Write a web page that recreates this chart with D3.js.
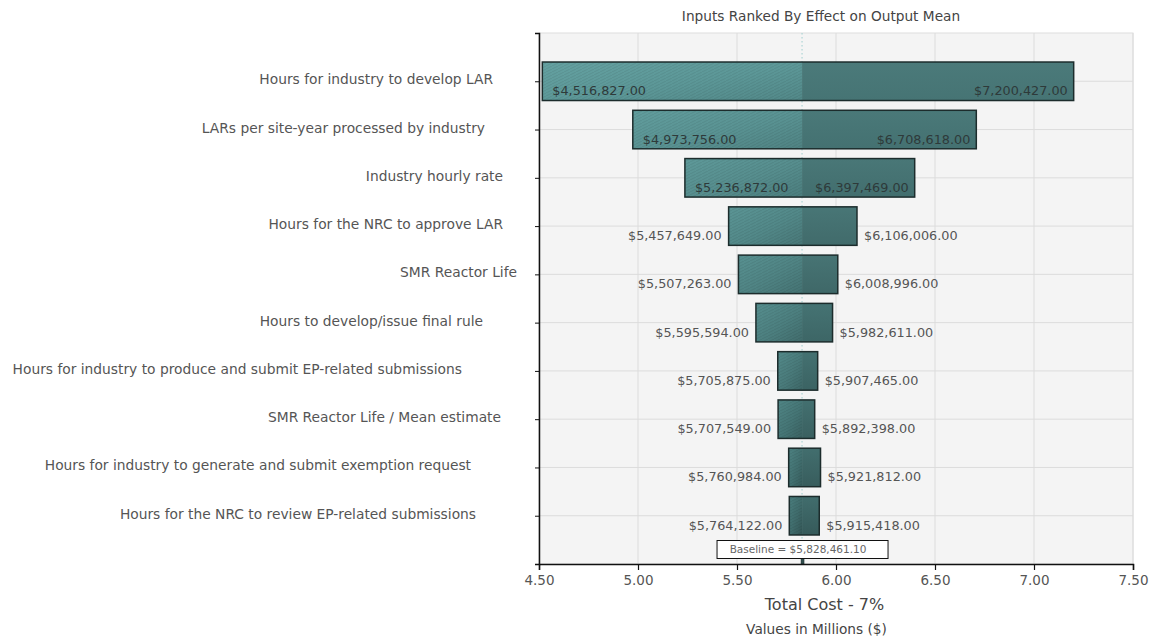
<!DOCTYPE html>
<html><head><meta charset="utf-8">
<script src="https://cdn.jsdelivr.net/npm/d3@7/dist/d3.min.js"></script>
<style>
body{margin:0;background:#fff;}
svg{font-family:"DejaVu Sans",sans-serif;display:block;}
</style></head>
<body><svg id="chart" width="1151" height="636"></svg>
<script>
// ---- data ----
const categories = [
  "Hours for industry to develop LAR",
  "LARs per site-year processed by industry",
  "Industry hourly rate",
  "Hours for the NRC to approve LAR",
  "SMR Reactor Life",
  "Hours to develop/issue final rule",
  "Hours for industry to produce and submit EP-related submissions",
  "SMR Reactor Life / Mean estimate",
  "Hours for industry to generate and submit exemption request",
  "Hours for the NRC to review EP-related submissions"
];
const lowValues  = [4516827.00, 4973756.00, 5236872.00, 5457649.00, 5507263.00, 5595594.00, 5705875.00, 5707549.00, 5760984.00, 5764122.00];
const highValues = [7200427.00, 6708618.00, 6397469.00, 6106006.00, 6008996.00, 5982611.00, 5907465.00, 5892398.00, 5921812.00, 5915418.00];
const baselineValue = 5828461.10;
const xTicks = [4.5, 5.0, 5.5, 6.0, 6.5, 7.0, 7.5];
const chartTitle = "Inputs Ranked By Effect on Output Mean";
const xTitle = "Total Cost - 7%";
const xSubTitle = "Values in Millions ($)";

// ---- layout ----
const plot = {left: 539, right: 1133, top: 33, bottom: 564};
// right edge of category labels (layout only)
const labelRightEdge = [493, 485, 503, 503, 517, 483, 462, 501, 471, 476];

const svg = d3.select("#chart");
const x = d3.scaleLinear().domain([4.5, 7.5]).range([plot.left, plot.right]);
const y = d3.scalePoint().domain(categories).range([plot.top, plot.bottom]).padding(1);
const barH = 38.5;
const money = d3.format("$,.2f");

// defs
const defs = svg.append("defs");
categories.forEach((c, i) => {
  const t = i / (categories.length - 1);
  const g = defs.append("linearGradient").attr("id", "lg" + i)
    .attr("x1", 0).attr("y1", 0).attr("x2", 1).attr("y2", 1);
  g.append("stop").attr("offset", 0).attr("stop-color", d3.interpolateRgb("#64a1a1", "#4a7e7e")(t));
  g.append("stop").attr("offset", 0.55).attr("stop-color", d3.interpolateRgb("#5c9797", "#3f6b6b")(t));
  g.append("stop").attr("offset", 1).attr("stop-color", d3.interpolateRgb("#528888", "#335656")(t));
  const r = defs.append("linearGradient").attr("id", "rg" + i)
    .attr("x1", 0).attr("y1", 0).attr("x2", 0).attr("y2", 1);
  r.append("stop").attr("offset", 0).attr("stop-color", d3.interpolateRgb("#4b7a7a", "#416d6d")(t));
  r.append("stop").attr("offset", 1).attr("stop-color", d3.interpolateRgb("#467474", "#365a5a")(t));
});
const pat = defs.append("pattern").attr("id", "hatch").attr("patternUnits", "userSpaceOnUse")
  .attr("width", 6).attr("height", 3);
pat.append("path").attr("d", "M0,3 L6,0").attr("stroke", "#000").attr("stroke-opacity", 0.07).attr("stroke-width", 1);

// background
svg.append("rect").attr("x", plot.left).attr("y", plot.top)
  .attr("width", plot.right - plot.left).attr("height", plot.bottom - plot.top)
  .attr("fill", "#f4f4f4").attr("stroke", "#dedede");

// grid
svg.append("g").selectAll("line").data(xTicks).join("line")
  .attr("x1", d => x(d)).attr("x2", d => x(d)).attr("y1", plot.top).attr("y2", plot.bottom)
  .attr("stroke", "#dcdcdc").attr("stroke-width", 1);
svg.append("g").selectAll("line").data(categories).join("line")
  .attr("x1", plot.left).attr("x2", plot.right).attr("y1", d => y(d)).attr("y2", d => y(d))
  .attr("stroke", "#dcdcdc").attr("stroke-width", 1);

// baseline dotted line
const bx = x(baselineValue / 1e6);
svg.append("line").attr("x1", bx).attr("x2", bx).attr("y1", plot.top).attr("y2", plot.bottom)
  .attr("stroke", "#9fcfcf").attr("stroke-width", 1).attr("stroke-dasharray", "1.5,2.5");

// bars
const rows = categories.map((c, i) => ({c, i, lo: lowValues[i], hi: highValues[i]}));
const bars = svg.append("g");
rows.forEach(d => {
  const yc = y(d.c);
  const xl = x(d.lo / 1e6), xh = x(d.hi / 1e6);
  bars.append("rect").attr("x", xl).attr("y", yc - barH / 2).attr("width", bx - xl).attr("height", barH)
    .attr("fill", `url(#lg${d.i})`);
  bars.append("rect").attr("x", xl).attr("y", yc - barH / 2).attr("width", bx - xl).attr("height", barH)
    .attr("fill", "url(#hatch)");
  bars.append("rect").attr("x", bx).attr("y", yc - barH / 2).attr("width", xh - bx).attr("height", barH)
    .attr("fill", `url(#rg${d.i})`);
  bars.append("rect").attr("x", xl).attr("y", yc - barH / 2).attr("width", xh - xl).attr("height", barH)
    .attr("fill", "none").attr("stroke", "#1c2c2c").attr("stroke-width", 1.5);
});

// value labels
const labelW = 93;
const vl = svg.append("g").attr("font-size", "12.8px");
rows.forEach(d => {
  const yc = y(d.c) + 14;
  const xl = x(d.lo / 1e6), xh = x(d.hi / 1e6);
  const loInside = (bx - xl) > labelW + 12;
  const hiInside = (xh - bx) > labelW + 12;
  vl.append("text").text(money(d.lo))
    .attr("x", loInside ? xl + 10 : xl - 7).attr("y", yc)
    .attr("text-anchor", loInside ? "start" : "end")
    .attr("fill", loInside ? "#2e3a3a" : "#555");
  vl.append("text").text(money(d.hi))
    .attr("x", hiInside ? xh - 6 : xh + 7).attr("y", yc)
    .attr("text-anchor", hiInside ? "end" : "start")
    .attr("fill", hiInside ? "#2e3a3a" : "#555");
});

// baseline stub and label box
svg.append("rect").attr("x", bx - 1).attr("y", plot.bottom - 7).attr("width", 3).attr("height", 7)
  .attr("fill", "#2f4d4d").attr("stroke", "#1c2c2c").attr("stroke-width", 0.5);
const boxW = 171, boxH = 18;
svg.append("rect").attr("x", bx - boxW / 2 + 0.5).attr("y", 540.5).attr("width", boxW).attr("height", boxH)
  .attr("fill", "#fff").attr("stroke", "#111").attr("stroke-width", 1);
svg.append("text").attr("x", bx - 4).attr("y", 553).attr("text-anchor", "middle")
  .attr("font-size", "10.5px").attr("fill", "#666")
  .text("Baseline = " + money(baselineValue));

// axes
const xAxis = d3.axisBottom(x).tickValues(xTicks).tickFormat(d3.format(".2f")).tickSize(6).tickPadding(5);
const gx = svg.append("g").attr("transform", `translate(0,${plot.bottom})`).call(xAxis);
gx.select(".domain").attr("stroke", "#111").attr("stroke-width", 1.5);
gx.selectAll(".tick line").attr("stroke", "#111").attr("stroke-width", 1.2);
gx.selectAll(".tick text").attr("font-size", "13.5px").attr("fill", "#555").attr("font-family", "DejaVu Sans");

const yAxis = d3.axisLeft(y).tickSize(4).tickFormat("");
const gy = svg.append("g").attr("transform", `translate(${plot.left},0)`).call(yAxis);
gy.select(".domain").attr("stroke", "#111").attr("stroke-width", 1.5);
gy.selectAll(".tick line").attr("stroke", "#111").attr("stroke-width", 1);

// category labels
svg.append("g").selectAll("text").data(categories).join("text")
  .attr("x", (d, i) => labelRightEdge[i]).attr("y", d => y(d) + 3)
  .attr("text-anchor", "end").attr("font-size", "13.8px").attr("fill", "#555")
  .text(d => d);

// titles
svg.append("text").attr("x", 821).attr("y", 21).attr("text-anchor", "middle")
  .attr("font-size", "13.7px").attr("fill", "#444").text(chartTitle);
svg.append("text").attr("x", 824.5).attr("y", 610).attr("text-anchor", "middle")
  .attr("font-size", "16px").attr("fill", "#444").text(xTitle);
svg.append("text").attr("x", 816.5).attr("y", 634).attr("text-anchor", "middle")
  .attr("font-size", "13.7px").attr("fill", "#444").text(xSubTitle);
</script></body></html>
